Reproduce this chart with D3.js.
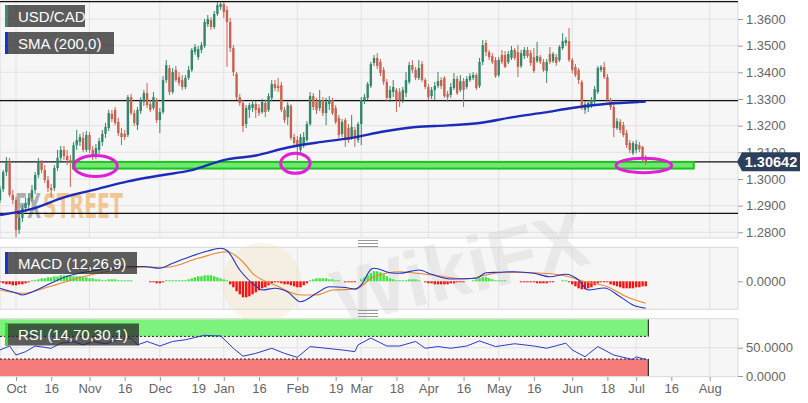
<!DOCTYPE html>
<html><head><meta charset="utf-8">
<script src="https://cdn.jsdelivr.net/npm/d3@7"></script>
<style>
body{margin:0;background:#fff;}
svg{display:block;font-family:"Liberation Sans",Arial,Helvetica,sans-serif;}
</style>
</head><body>
<svg id="c" width="808" height="403"></svg>
<script>
// ---------------- DATA ----------------
const opens=[1.2921,1.2962,1.3026,1.3064,1.2940,1.2921,1.2809,1.2854,1.2891,1.2902,
1.2929,1.2959,1.3015,1.3064,1.3034,1.2996,1.2966,1.2966,1.3041,1.3079,
1.3109,1.3086,1.3071,1.3060,1.3127,1.3139,1.3154,1.3109,1.3165,1.3109,
1.3086,1.3109,1.3139,1.3169,1.3191,1.3244,1.3259,1.3214,1.3172,1.3169,
1.3165,1.3307,1.3247,1.3202,1.3255,1.3289,1.3322,1.3281,1.3266,1.3296,
1.3221,1.3251,1.3371,1.3416,1.3326,1.3409,1.3382,1.3371,1.3345,1.3379,
1.3409,1.3476,1.3457,1.3484,1.3499,1.3581,1.3596,1.3570,1.3619,1.3645,
1.3656,1.3634,1.3589,1.3491,1.3394,1.3307,1.3285,1.3206,1.3259,1.3266,
1.3281,1.3266,1.3251,1.3285,1.3259,1.3304,1.3356,1.3349,1.3352,1.3259,
1.3232,1.3274,1.3157,1.3146,1.3109,1.3131,1.3146,1.3206,1.3311,1.3289,
1.3266,1.3296,1.3247,1.3281,1.3296,1.3266,1.3229,1.3169,1.3221,1.3191,
1.3157,1.3184,1.3146,1.3206,1.3296,1.3304,1.3349,1.3435,1.3454,1.3439,
1.3409,1.3364,1.3304,1.3326,1.3334,1.3326,1.3296,1.3322,1.3364,1.3427,
1.3409,1.3379,1.3431,1.3371,1.3345,1.3311,1.3334,1.3349,1.3371,1.3379,
1.3319,1.3315,1.3341,1.3375,1.3334,1.3367,1.3345,1.3371,1.3379,1.3390,
1.3349,1.3439,1.3510,1.3476,1.3461,1.3446,1.3390,1.3465,1.3465,1.3439,
1.3454,1.3484,1.3476,1.3424,1.3461,1.3484,1.3472,1.3457,1.3442,1.3457,
1.3439,1.3405,1.3469,1.3442,1.3457,1.3446,1.3491,1.3510,1.3517,1.3446,
1.3420,1.3409,1.3364,1.3259,1.3266,1.3277,1.3289,1.3326,1.3409,1.3420,
1.3382,1.3296,1.3270,1.3191,1.3214,1.3202,1.3172,1.3135,1.3097,1.3109,
1.3127,1.3120,1.3082];
const highs=[1.2974,1.3034,1.3082,1.3079,1.2959,1.2932,1.2876,1.2902,1.2929,1.2944,
1.2977,1.3026,1.3079,1.3071,1.3052,1.3011,1.2981,1.3052,1.3109,1.3124,
1.3124,1.3109,1.3090,1.3139,1.3184,1.3169,1.3176,1.3180,1.3176,1.3124,
1.3131,1.3154,1.3184,1.3210,1.3259,1.3259,1.3270,1.3229,1.3191,1.3184,
1.3315,1.3319,1.3259,1.3270,1.3307,1.3334,1.3360,1.3296,1.3326,1.3304,
1.3266,1.3386,1.3446,1.3427,1.3416,1.3424,1.3401,1.3390,1.3390,1.3424,
1.3491,1.3506,1.3499,1.3514,1.3600,1.3615,1.3607,1.3630,1.3664,1.3664,
1.3664,1.3649,1.3604,1.3502,1.3401,1.3319,1.3296,1.3277,1.3285,1.3296,
1.3292,1.3281,1.3300,1.3296,1.3322,1.3371,1.3371,1.3379,1.3364,1.3270,
1.3289,1.3281,1.3169,1.3161,1.3169,1.3176,1.3217,1.3326,1.3322,1.3304,
1.3334,1.3307,1.3304,1.3311,1.3304,1.3277,1.3240,1.3225,1.3229,1.3206,
1.3240,1.3195,1.3214,1.3307,1.3319,1.3364,1.3439,1.3465,1.3472,1.3450,
1.3420,1.3375,1.3349,1.3371,1.3341,1.3341,1.3345,1.3401,1.3439,1.3446,
1.3420,1.3446,1.3442,1.3379,1.3356,1.3345,1.3364,1.3401,1.3382,1.3386,
1.3330,1.3360,1.3397,1.3386,1.3390,1.3379,1.3386,1.3397,1.3401,1.3397,
1.3454,1.3521,1.3521,1.3484,1.3472,1.3457,1.3457,1.3484,1.3480,1.3480,
1.3499,1.3491,1.3502,1.3484,1.3495,1.3495,1.3484,1.3491,1.3514,1.3465,
1.3450,1.3450,1.3495,1.3476,1.3469,1.3502,1.3547,1.3532,1.3566,1.3454,
1.3431,1.3416,1.3371,1.3292,1.3296,1.3307,1.3349,1.3424,1.3427,1.3439,
1.3394,1.3304,1.3281,1.3229,1.3225,1.3214,1.3184,1.3146,1.3142,1.3146,
1.3139,1.3124,1.3090];
const lows=[1.2910,1.2951,1.3011,1.2932,1.2906,1.2782,1.2794,1.2839,1.2876,1.2884,
1.2917,1.2944,1.3004,1.3022,1.2985,1.2951,1.2932,1.2955,1.3030,1.3064,
1.3071,1.3052,1.2970,1.3049,1.3109,1.3124,1.3101,1.3101,1.3097,1.3071,
1.3075,1.3094,1.3124,1.3154,1.3180,1.3214,1.3202,1.3161,1.3127,1.3146,
1.3157,1.3240,1.3199,1.3184,1.3244,1.3274,1.3266,1.3251,1.3259,1.3210,
1.3172,1.3244,1.3360,1.3315,1.3319,1.3364,1.3349,1.3334,1.3337,1.3371,
1.3401,1.3465,1.3446,1.3472,1.3491,1.3570,1.3559,1.3562,1.3611,1.3634,
1.3604,1.3420,1.3476,1.3386,1.3296,1.3274,1.3176,1.3191,1.3229,1.3251,
1.3229,1.3236,1.3244,1.3232,1.3251,1.3292,1.3330,1.3326,1.3251,1.3210,
1.3202,1.3146,1.3124,1.3071,1.3094,1.3116,1.3139,1.3199,1.3259,1.3244,
1.3255,1.3236,1.3202,1.3259,1.3240,1.3206,1.3154,1.3157,1.3120,1.3135,
1.3146,1.3120,1.3135,1.3127,1.3281,1.3296,1.3341,1.3424,1.3412,1.3386,
1.3352,1.3292,1.3289,1.3307,1.3251,1.3270,1.3285,1.3307,1.3356,1.3397,
1.3371,1.3371,1.3364,1.3337,1.3296,1.3300,1.3296,1.3341,1.3337,1.3304,
1.3289,1.3304,1.3334,1.3315,1.3326,1.3270,1.3337,1.3364,1.3371,1.3334,
1.3341,1.3427,1.3461,1.3446,1.3431,1.3379,1.3382,1.3431,1.3416,1.3431,
1.3446,1.3446,1.3382,1.3416,1.3450,1.3454,1.3424,1.3397,1.3435,1.3431,
1.3401,1.3360,1.3431,1.3435,1.3424,1.3439,1.3484,1.3499,1.3439,1.3397,
1.3382,1.3356,1.3259,1.3244,1.3251,1.3266,1.3281,1.3319,1.3401,1.3375,
1.3289,1.3259,1.3157,1.3184,1.3172,1.3157,1.3116,1.3097,1.3090,1.3097,
1.3101,1.3064,1.3052];
const closes=[1.2962,1.3026,1.3064,1.2940,1.2921,1.2809,1.2854,1.2891,1.2910,1.2929,
1.2959,1.3015,1.3064,1.3034,1.2996,1.2966,1.2959,1.3041,1.3079,1.3109,
1.3086,1.3071,1.3060,1.3127,1.3146,1.3157,1.3109,1.3165,1.3109,1.3082,
1.3116,1.3142,1.3169,1.3195,1.3247,1.3225,1.3210,1.3172,1.3157,1.3157,
1.3307,1.3247,1.3210,1.3259,1.3292,1.3322,1.3277,1.3259,1.3307,1.3221,
1.3251,1.3371,1.3427,1.3326,1.3401,1.3371,1.3360,1.3345,1.3379,1.3409,
1.3484,1.3495,1.3487,1.3502,1.3589,1.3600,1.3570,1.3619,1.3652,1.3656,
1.3626,1.3589,1.3491,1.3401,1.3307,1.3285,1.3199,1.3266,1.3277,1.3281,
1.3259,1.3247,1.3289,1.3251,1.3311,1.3356,1.3341,1.3341,1.3259,1.3221,
1.3277,1.3154,1.3135,1.3124,1.3157,1.3157,1.3206,1.3311,1.3270,1.3259,
1.3296,1.3247,1.3289,1.3296,1.3247,1.3214,1.3165,1.3214,1.3146,1.3146,
1.3195,1.3154,1.3206,1.3296,1.3307,1.3356,1.3431,1.3454,1.3424,1.3397,
1.3364,1.3304,1.3334,1.3345,1.3296,1.3296,1.3334,1.3371,1.3427,1.3409,
1.3379,1.3416,1.3371,1.3345,1.3307,1.3334,1.3349,1.3367,1.3349,1.3311,
1.3307,1.3345,1.3375,1.3322,1.3367,1.3334,1.3375,1.3386,1.3390,1.3341,
1.3439,1.3502,1.3476,1.3457,1.3439,1.3386,1.3446,1.3439,1.3420,1.3469,
1.3484,1.3454,1.3420,1.3472,1.3484,1.3461,1.3435,1.3405,1.3461,1.3439,
1.3409,1.3439,1.3439,1.3469,1.3435,1.3495,1.3517,1.3521,1.3446,1.3409,
1.3390,1.3371,1.3270,1.3281,1.3285,1.3296,1.3337,1.3416,1.3420,1.3382,
1.3296,1.3270,1.3191,1.3217,1.3184,1.3165,1.3127,1.3109,1.3135,1.3131,
1.3112,1.3079,1.30642];

// SMA(200) read at candle indices
const smaIdx=[0,10,20,30,40,50,60,70,80,90,100,110,120,130,140,150,160,170,180,190,200,202];
const smaVals=[1.2865,1.2888,1.2931,1.2961,1.2991,1.3013,1.3033,1.3071,1.3088,1.3118,1.3138,1.3154,1.3178,1.3195,1.3201,1.3210,1.3231,1.3249,1.3268,1.3282,1.3289,1.3290];

// MACD (12,26,9)
const macdIdx=[0,5,7,10,15,20,25,30,35,40,45,50,54,60,65,69,71,75,80,82,86,90,94,99,103,108,111,113,116,117,122,125,131,135,141,149,152,156,161,167,172,177,181,184,189,194,198,202];
const macdVals=[-0.0007,-0.00117,-0.00137,-0.00107,-0.00032,0.00038,0.00083,0.00108,0.00133,0.00148,0.00148,0.0013,0.0018,0.00253,0.00303,0.0033,0.00308,0.00113,-0.00047,-0.00087,-0.0007,-0.00107,-0.00204,-0.0012,-0.00054,-0.00062,-0.00077,-0.00037,0.00118,0.0013,0.00086,0.0008,0.00113,0.0007,0.00023,0.0003,0.00086,0.0009,0.00096,0.0008,0.00046,0.0007,0.00013,-0.00087,-0.00067,-0.00154,-0.00237,-0.0027];
const signalIdx=[0,7,15,26,36,44,52,62,71,76,79,86,94,99,104,111,117,125,135,146,152,158,167,177,183,190,196,202];
const signalVals=[-0.00087,-0.0012,-0.00057,0.00046,0.00113,0.0014,0.0014,0.0023,0.00296,0.00193,0.0008,-0.00037,-0.00137,-0.00137,-0.00087,-0.0008,0.00046,0.00096,0.00063,0.00023,0.00063,0.0009,0.00086,0.00053,-0.00004,-0.00054,-0.00154,-0.0022];
const histVals=[-0.0001,-0.0002,-0.0003,-0.0003,-0.0004,-0.0004,-0.0003,-0.0003,-0.0002,-0.0001,
0.0001,0.0001,0.0002,0.0003,0.0003,0.0004,0.0004,0.0005,0.0005,0.0006,
0.0006,0.0006,0.0006,0.0005,0.0005,0.0005,0.0004,0.0004,0.0003,0.0003,
0.0002,0.0002,0.0001,0.0001,0.0002,0.0002,0.0002,0.0001,0.0001,0.0001,
0.0001,0.0001,0,0,0,0,0,-0.0001,-0.0001,-0.0002,
-0.0002,-0.0001,0.0001,0.0001,0.0001,0.0001,0.0001,0.0001,0.0001,0.0002,
0.0003,0.0004,0.0005,0.0005,0.0006,0.0006,0.0006,0.0005,0.0004,0.0003,
0.0002,0.0001,-0.0003,-0.0006,-0.0010,-0.0013,-0.0016,-0.0016,-0.0015,-0.0013,
-0.0011,-0.0009,-0.0007,-0.0006,-0.0004,-0.0002,-0.0001,-0.0001,-0.0002,-0.0003,
-0.0003,-0.0004,-0.0005,-0.0006,-0.0006,-0.0004,-0.0002,0.0001,0.0002,0.0003,
0.0003,0.0003,0.0003,0.0002,0.0002,0.0001,0.0001,0,-0.0001,-0.0001,
-0.0001,-0.0001,0,0.0002,0.0004,0.0006,0.0008,0.0010,0.0010,0.0009,
0.0007,0.0005,0.0003,0.0002,0.0001,0.0001,0.0001,0.0001,0.0002,0.0002,
0.0002,0.0001,0,-0.0001,-0.0002,-0.0002,-0.0003,-0.0003,-0.0003,-0.0003,
-0.0003,-0.0002,-0.0002,-0.0001,-0.0001,-0.0001,0,0,0.0001,0.0002,
0.0003,0.0004,0.0004,0.0003,0.0002,0.0001,0.0001,0.0001,0.0001,0,
0,0,0,-0.0001,-0.0001,-0.0001,-0.0001,-0.0001,-0.0002,-0.0002,
-0.0002,-0.0002,-0.0001,-0.0001,0,0,0.0001,0.0001,-0.0001,-0.0003,
-0.0005,-0.0007,-0.0008,-0.0008,-0.0007,-0.0006,-0.0004,-0.0002,-0.0001,-0.0001,
-0.0001,-0.0003,-0.0004,-0.0005,-0.0006,-0.0007,-0.0007,-0.0007,-0.0007,-0.0006,
-0.0006,-0.0005,-0.0005];

// RSI (14)
const rsiIdx=[0,3,5,8,11,16,19,23,26,29,33,37,41,43,46,50,54,58,64,67,69,73,76,80,85,89,93,97,102,107,111,112,116,121,125,130,133,137,141,146,150,155,161,167,171,177,179,183,187,192,198,199,202];
const rsiVals=[46,53,37,43,53,49,58,61,55,61,57,64,67,55,61,53,61,64,72,71,71,49,35,40,49,40,33,52,49,46,43,55,67,53,53,61,49,52,49,53,62,52,57,53,49,58,46,34,52,37,29,34,29];
const rsiLevels=[70,30];

// axis labels
const xTickIdx=[5,16,28,39,50,62,70,81,93,105,113,124,134,145,156,167,179,190,199,210,222];
const xTickLabels=["Oct","16","Nov","16","Dec","19","Jan","16","Feb","19","Mar","18","Apr","16","May","16","Jun","18","Jul","16","Aug"];
const priceTicks=[1.28,1.29,1.30,1.31,1.32,1.33,1.34,1.35,1.36];
const macdTicks=[0];
const rsiTicks=[0,50];

// annotations
const lastPrice=1.30642;
const levelLines=[1.32936,1.28713];
const zoneLow=1.3039, zoneHigh=1.3064, zoneFrom=22.8, zoneTo=217;
const circleIdx=[29.9,92.4,201.4];
const circlePrice=[1.30487,1.30587,1.30506];
const circleRx=[21.7,14.7,27.8], circleRy=[10.5,10,7.2];

// ---------------- DRAW ----------------
const svg=d3.select("#c");
const R=738;
const N=closes.length;
const x=d3.scaleLinear().domain([5,222]).range([16,709.7]);
const y=d3.scaleLinear().domain([1.28,1.36]).range([232.3,19]);
const ym=d3.scaleLinear().domain([-0.0028,0.0034]).range([309.3,247.3]);
const yr=d3.scaleLinear().domain([0,100]).range([376,319.4]);
const panels=[{t:1,b:238},{t:247.3,b:309.3},{t:318.7,b:376.7}];

svg.append("rect").attr("width",808).attr("height",403).attr("fill","#fff");
const defs=svg.append("defs");
panels.forEach((p,k)=>{
  defs.append("clipPath").attr("id","clip"+k).append("rect")
    .attr("x",0).attr("y",p.t).attr("width",R).attr("height",p.b-p.t);
  svg.append("rect").attr("x",0).attr("y",p.t).attr("width",R).attr("height",p.b-p.t)
    .attr("fill","#f6f6f6").attr("stroke","#d9d9d9").attr("stroke-width",1);
});

const monthIdx=xTickIdx.filter((d,i)=>isNaN(+xTickLabels[i]));
panels.forEach(p=>{
  svg.append("g").selectAll("line").data(monthIdx).join("line")
    .attr("x1",d=>x(d)).attr("x2",d=>x(d)).attr("y1",p.t).attr("y2",p.b)
    .attr("stroke","#e2e2e2").attr("stroke-width",1);
});
svg.append("g").selectAll("line").data(priceTicks).join("line")
  .attr("x1",0).attr("x2",R).attr("y1",d=>y(d)).attr("y2",d=>y(d))
  .attr("stroke","#e2e2e2");
svg.append("line").attr("x1",0).attr("x2",R).attr("y1",yr(50)).attr("y2",yr(50)).attr("stroke","#e2e2e2");

// watermarks
const wm=svg.append("g").attr("pointer-events","none");
wm.append("circle").attr("cx",262).attr("cy",283).attr("r",40).attr("fill","#f3dfb5").attr("opacity",0.3);
wm.append("text").attr("x",330).attr("y",300).attr("font-size",78).attr("font-weight","bold")
  .attr("fill","#c9c9c9").attr("opacity",0.3).attr("transform","rotate(-14,440,270)").text("WikiFX");

const main=svg.append("g").attr("clip-path","url(#clip0)");
const wmFont="'DejaVu Sans Condensed','DejaVu Sans',sans-serif";
function squeezed(txt,x0,w,fill,op){
  const t=main.append("text").attr("x",0).attr("y",0).attr("font-size",34).attr("font-weight","bold")
    .attr("font-family",wmFont).attr("fill",fill).attr("fill-opacity",op).text(txt);
  const nat=t.node().getComputedTextLength()||w;
  t.attr("transform",`translate(${x0},218) scale(${w/nat},1)`);
}
squeezed("FX",15,26,"#9a9a9a",0.8);
squeezed("STREET",43,80,"#efbf83",0.85);

// level lines
main.selectAll("line.lvl").data(levelLines.concat([lastPrice])).join("line").attr("class","lvl")
  .attr("x1",0).attr("x2",R).attr("y1",d=>y(d)).attr("y2",d=>y(d))
  .attr("stroke","#111").attr("stroke-width",1.3);
main.append("line").attr("x1",0).attr("x2",R).attr("y1",1.5).attr("y2",1.5).attr("stroke","#111").attr("stroke-width",1.6);

// support zone
main.append("rect").attr("x",x(zoneFrom)).attr("width",x(zoneTo)-x(zoneFrom))
  .attr("y",y(zoneHigh)).attr("height",y(zoneLow)-y(zoneHigh))
  .attr("fill","#6fe86f").attr("stroke","#1ec21e").attr("stroke-width",2);

// candles
const idx=d3.range(N);
const up="#33876a", dn="#c9634f";
const cg=main.append("g");
cg.selectAll("line").data(idx).join("line")
  .attr("x1",i=>x(i)).attr("x2",i=>x(i)).attr("y1",i=>y(highs[i])).attr("y2",i=>y(lows[i]))
  .attr("stroke",i=>closes[i]>=opens[i]?up:dn).attr("stroke-width",1);
cg.selectAll("rect").data(idx).join("rect")
  .attr("x",i=>x(i)-1.2).attr("width",2.4)
  .attr("y",i=>y(Math.max(opens[i],closes[i])))
  .attr("height",i=>Math.max(1,Math.abs(y(opens[i])-y(closes[i]))))
  .attr("fill",i=>closes[i]>=opens[i]?up:dn);

// SMA
main.append("path").datum(smaIdx.map((d,k)=>[d,smaVals[k]]))
  .attr("d",d3.line().x(d=>x(d[0])).y(d=>y(d[1])).curve(d3.curveMonotoneX))
  .attr("fill","none").attr("stroke","#1c2cb8").attr("stroke-width",2.4);

// highlight ellipses
main.selectAll("ellipse").data(circleIdx).join("ellipse")
  .attr("cx",d=>x(d)).attr("cy",(d,k)=>y(circlePrice[k]))
  .attr("rx",(d,k)=>circleRx[k]).attr("ry",(d,k)=>circleRy[k])
  .attr("fill","none").attr("stroke","#e21fd8").attr("stroke-width",3);

// MACD panel
const mg=svg.append("g").attr("clip-path","url(#clip1)");
mg.selectAll("rect").data(idx).join("rect")
  .attr("x",i=>x(i)-1.2).attr("width",2.4)
  .attr("y",i=>Math.min(ym(0),ym(histVals[i])))
  .attr("height",i=>Math.abs(ym(histVals[i])-ym(0)))
  .attr("fill",i=>histVals[i]>=0?"#3fe43f":"#f01414");
mg.append("path").datum(signalIdx.map((d,k)=>[d,signalVals[k]]))
  .attr("d",d3.line().x(d=>x(d[0])).y(d=>ym(d[1])).curve(d3.curveMonotoneX))
  .attr("fill","none").attr("stroke","#e8862e").attr("stroke-width",1.1);
mg.append("path").datum(macdIdx.map((d,k)=>[d,macdVals[k]]))
  .attr("d",d3.line().x(d=>x(d[0])).y(d=>ym(d[1])).curve(d3.curveMonotoneX))
  .attr("fill","none").attr("stroke","#2333c0").attr("stroke-width",1.1);

// RSI panel
const rg=svg.append("g").attr("clip-path","url(#clip2)");
const bandR=x(N-1+0.8);
rg.append("rect").attr("x",0).attr("width",bandR).attr("y",yr(100)).attr("height",yr(rsiLevels[0])-yr(100)).attr("fill","#7df27d");
rg.append("rect").attr("x",0).attr("width",bandR).attr("y",yr(rsiLevels[1])).attr("height",yr(0)-yr(rsiLevels[1])).attr("fill","#f57b7b");
rg.selectAll("line.lv").data(rsiLevels).join("line").attr("class","lv")
  .attr("x1",0).attr("x2",bandR).attr("y1",d=>yr(d)).attr("y2",d=>yr(d))
  .attr("stroke","#222").attr("stroke-width",1).attr("stroke-dasharray","2,2");
rg.append("line").attr("x1",bandR).attr("x2",bandR).attr("y1",yr(100)).attr("y2",yr(rsiLevels[0])).attr("stroke","#111");
rg.append("line").attr("x1",bandR).attr("x2",bandR).attr("y1",yr(rsiLevels[1])).attr("y2",yr(0)).attr("stroke","#111");
rg.append("path").datum(rsiIdx.map((d,k)=>[d,rsiVals[k]]))
  .attr("d",d3.line().x(d=>x(d[0])).y(d=>yr(d[1])))
  .attr("fill","none").attr("stroke","#2a3bc4").attr("stroke-width",1);

// handles
[243,313].forEach(cy=>{
  [-2.5,0.5,3.5].forEach(o=>svg.append("line").attr("x1",358).attr("x2",378).attr("y1",cy+o).attr("y2",cy+o).attr("stroke","#9a9a9a").attr("stroke-width",1));
});

// axes
function styleAxis(g){
  g.select(".domain").remove();
  g.selectAll(".tick line").attr("stroke","#9a9a9a");
  g.selectAll(".tick text").attr("fill","#666").attr("font-size",13).attr("font-family","'Liberation Sans',Arial,sans-serif");
}
const fmt=d3.format(".4f");
svg.append("g").attr("transform",`translate(${R},0)`).call(d3.axisRight(y).tickValues(priceTicks).tickFormat(fmt).tickSize(5)).call(styleAxis);
svg.append("g").attr("transform",`translate(${R},0)`).call(d3.axisRight(ym).tickValues(macdTicks).tickFormat(fmt).tickSize(5)).call(styleAxis);
svg.append("g").attr("transform",`translate(${R},0)`).call(d3.axisRight(yr).tickValues(rsiTicks).tickFormat(fmt).tickSize(5)).call(styleAxis);
svg.append("g").attr("transform","translate(0,377)").call(d3.axisBottom(x).tickValues(xTickIdx).tickFormat((d,i)=>xTickLabels[i]).tickSize(4)).call(styleAxis);

// last price tag
const py=y(lastPrice);
svg.append("path").attr("d",`M${R-1},${py} L${R+4},${py-9.5} L${R+62},${py-9.5} L${R+62},${py+9.5} L${R+4},${py+9.5} Z`)
  .attr("fill","#2c405d");
svg.append("text").attr("x",R+33).attr("y",py+5).attr("text-anchor","middle").attr("fill","#fff")
  .attr("font-size",14.5).attr("font-weight","bold").text(d3.format(".5f")(lastPrice));

// legend boxes
const legends=[
  {t:"USD/CAD",x:5,y:5,w:80,c:"#3a8a72"},
  {t:"SMA (200,0)",x:5,y:32,w:109,c:"#1f2fd4"},
  {t:"MACD (12,26,9)",x:5,y:252,w:132,c:"#1f2fd4"},
  {t:"RSI (14,70,30,1)",x:5,y:323.5,w:134,c:"#2fe02f"}
];
legends.forEach(l=>{
  svg.append("rect").attr("x",l.x).attr("y",l.y).attr("width",l.w).attr("height",22).attr("fill","#262626").attr("opacity",0.74);
  svg.append("rect").attr("x",l.x).attr("y",l.y).attr("width",3).attr("height",22).attr("fill",l.c);
  svg.append("text").attr("x",l.x+13).attr("y",l.y+16.5).attr("fill","#fff").attr("font-size",15).text(l.t);
});
</script>
</body></html>
